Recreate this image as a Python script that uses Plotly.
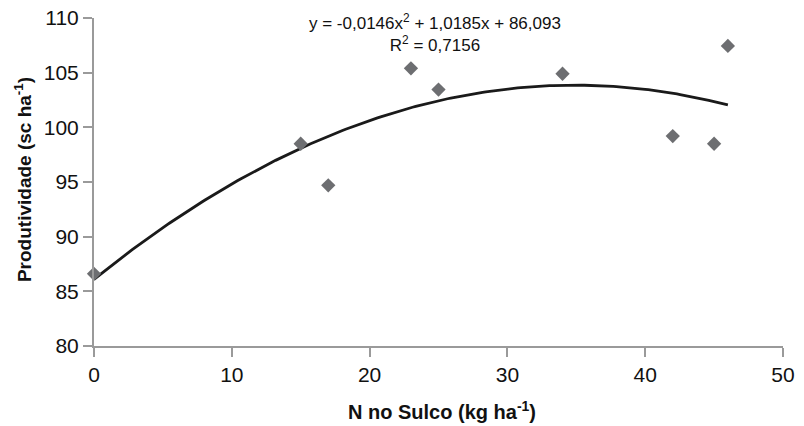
import plotly.graph_objects as go
import numpy as np

# Data
n_sulco = [0, 15, 17, 23, 25, 34, 42, 45, 46]
produtividade = [86.6, 98.5, 94.7, 105.4, 103.45, 104.9, 99.2, 98.5, 107.45]
# Trendline coefficients (from the equation shown on the chart)
coef_a, coef_b, coef_c = -0.0146, 1.0185, 86.093
x_ticks = [0, 10, 20, 30, 40, 50]
y_ticks = [80, 85, 90, 95, 100, 105, 110]

xt = np.linspace(min(n_sulco), max(n_sulco), 200)
yt = coef_a * xt**2 + coef_b * xt + coef_c

fam = "Liberation Sans, Arial, sans-serif"
axis_col = "#9a9a9a"

fig = go.Figure()
fig.add_trace(go.Scatter(x=xt, y=yt, mode="lines",
                         line=dict(color="#1a1a1a", width=2.8),
                         hoverinfo="skip", showlegend=False))
fig.add_trace(go.Scatter(x=n_sulco, y=produtividade, mode="markers",
                         marker=dict(symbol="diamond", size=11, color="#6d6e71"),
                         cliponaxis=False, showlegend=False))

fig.add_annotation(x=24.75, y=108.66, xref="x", yref="y",
                   text="y = -0,0146x<sup>2</sup> + 1,0185x + 86,093<br>R<sup>2</sup> = 0,7156",
                   showarrow=False, align="center", yanchor="middle",
                   font=dict(family=fam, size=17, color="#111"))

# Axis titles as paper-anchored annotations
fig.add_annotation(x=0.505, y=-0.198, xref="paper", yref="paper",
                   text="<b>N no Sulco (kg ha<sup>-1</sup>)</b>", showarrow=False,
                   xanchor="center", yanchor="middle",
                   font=dict(family=fam, size=20, color="#111"))
fig.add_annotation(x=-0.103, y=0.506, xref="paper", yref="paper",
                   text="<b>Produtividade (sc ha<sup>-1</sup>)</b>", showarrow=False,
                   textangle=-90, xanchor="center", yanchor="middle",
                   font=dict(family=fam, size=19, color="#111"))

fig.update_xaxes(range=[0, 50], tickvals=x_ticks, showline=True, linecolor=axis_col,
                 linewidth=2, ticks="outside", ticklen=9, tickwidth=2, tickcolor=axis_col,
                 showgrid=False, zeroline=False, automargin=False,
                 ticklabeloverflow="allow",
                 tickfont=dict(family=fam, size=21, color="#111"))
fig.update_yaxes(range=[80, 110], tickvals=y_ticks, showline=True, linecolor=axis_col,
                 linewidth=2, ticks="outside", ticklen=9, tickwidth=2, tickcolor=axis_col,
                 showgrid=False, zeroline=False, automargin=False,
                 ticklabeloverflow="allow",
                 tickfont=dict(family=fam, size=21, color="#111"))

fig.update_layout(width=804, height=426, plot_bgcolor="white", paper_bgcolor="white",
                  margin=dict(l=94, r=21, t=18, b=80))
# remove the default 8px page margin so the figure fills the window exactly
fig.write_html("out.html", config={"displayModeBar": False},
               post_script="document.body.style.margin='0';document.body.style.overflow='hidden';")
